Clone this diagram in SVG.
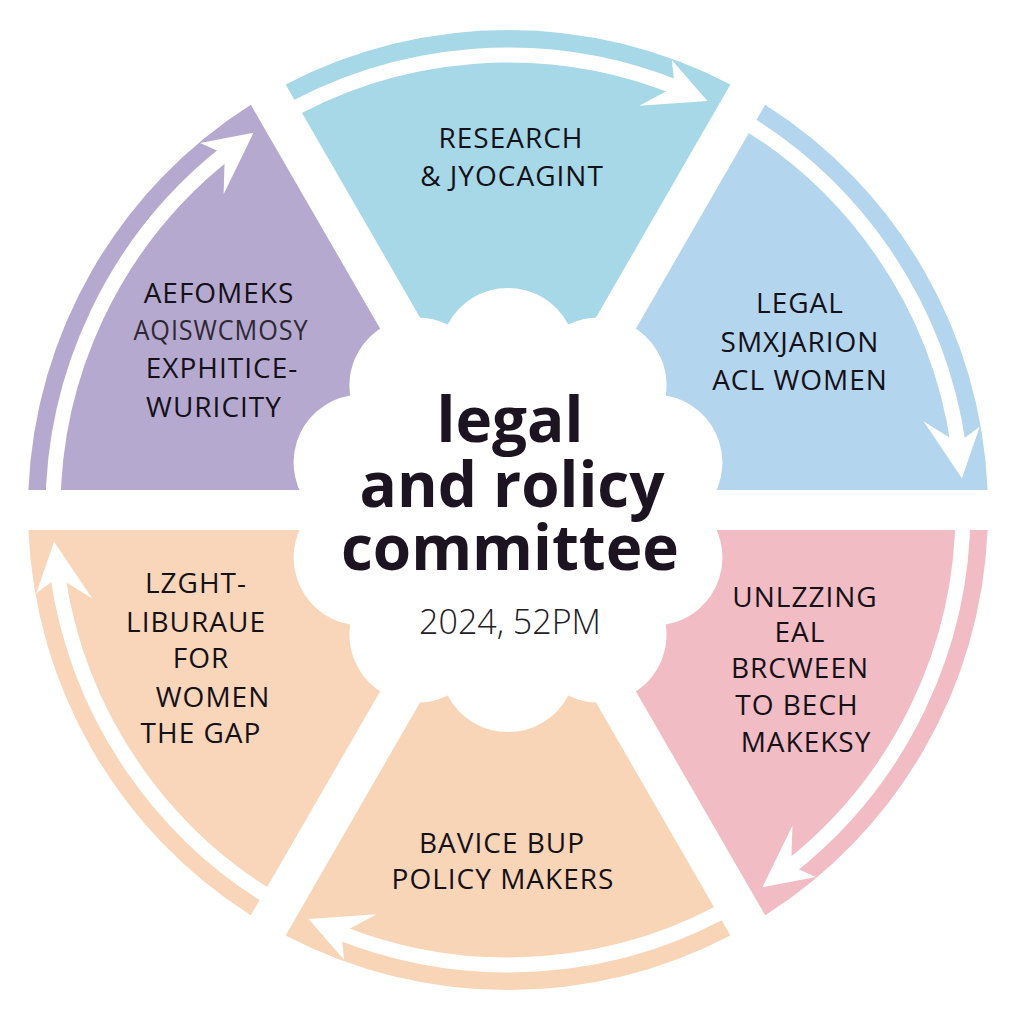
<svg xmlns="http://www.w3.org/2000/svg" xmlns:xlink="http://www.w3.org/1999/xlink" width="1024" height="1024" viewBox="0 0 1024 1024">
  <style>
    .seg { font-family: "Open Sans", "Noto Sans", "Liberation Sans", sans-serif; font-size: 28px; font-weight: 500; fill: #141118; text-anchor: middle; letter-spacing: 1px; }
    .title { font-family: "Open Sans", "Noto Sans", "Liberation Sans", sans-serif; font-size: 62px; font-weight: 700; fill: #1c1420; text-anchor: middle; }
    .sub { font-family: "Open Sans", "Noto Sans", "Liberation Sans", sans-serif; font-size: 34px; font-weight: 300; fill: #222026; text-anchor: middle; }
    .arrow-shaft { fill: none; stroke: #ffffff; stroke-width: 15; }
    .arrow-head { fill: #ffffff; }
  </style>
  <defs>
    <path id="wedge" d="M 508 470 L 285.6 84.6 A 480 480 0 0 1 730.4 84.6 Z"/>
    <g id="arrowTop">
      <path class="arrow-shaft" d="M 273.7 120.0 A 455 455 0 0 1 678.4 88.1"/>
      <polygon class="arrow-head" points="707.5,101.0 671.8,59.9 674.8,86.7 639.3,105.8"/>
    </g>
  </defs>
  <rect width="1024" height="1024" fill="#ffffff"/>

  <g id="node-research">
    <use xlink:href="#wedge" href="#wedge" fill="#a7d8e8"/>
  </g>
  <g id="node-legal-smxjarion">
    <use xlink:href="#wedge" href="#wedge" fill="#b3d6ee" transform="rotate(60 508 510)"/>
  </g>
  <g id="node-unlzzing">
    <use xlink:href="#wedge" href="#wedge" fill="#f2bcc4" transform="rotate(120 508 510)"/>
  </g>
  <g id="node-bavice">
    <use xlink:href="#wedge" href="#wedge" fill="#f9d5b7" transform="rotate(180 508 510)"/>
  </g>
  <g id="node-lzght">
    <use xlink:href="#wedge" href="#wedge" fill="#f9d6b9" transform="rotate(240 508 510)"/>
  </g>
  <g id="node-aefomeks">
    <use xlink:href="#wedge" href="#wedge" fill="#b6a9d0" transform="rotate(300 508 510)"/>
  </g>

  <g id="connectors">
    <use xlink:href="#arrowTop" href="#arrowTop"/>
    <use xlink:href="#arrowTop" href="#arrowTop" transform="rotate(60 508 510)"/>
    <use xlink:href="#arrowTop" href="#arrowTop" transform="rotate(120 508 510)"/>
    <use xlink:href="#arrowTop" href="#arrowTop" transform="rotate(180 508 510)"/>
    <use xlink:href="#arrowTop" href="#arrowTop" transform="rotate(240 508 510)"/>
    <use xlink:href="#arrowTop" href="#arrowTop" transform="rotate(300 508 510)"/>
  </g>

  <g id="center-cloud">
    <path fill="#ffffff" d="M 447.7 324.5 A 68 68 0 0 1 568.3 324.5 A 68 68 0 0 1 665.8 395.4 A 68 68 0 0 1 703 510 A 68 68 0 0 1 665.8 624.6 A 68 68 0 0 1 568.3 695.5 A 68 68 0 0 1 447.7 695.5 A 68 68 0 0 1 350.2 624.6 A 68 68 0 0 1 313 510 A 68 68 0 0 1 350.2 395.4 A 68 68 0 0 1 447.7 324.5 Z"/>
    <text class="title" x="510" y="442">legal</text>
    <text class="title" x="512" y="507">and rolicy</text>
    <text class="title" x="510" y="570">committee</text>
    <text class="sub" x="510" y="634">2024, 52PM</text>
  </g>

  <g id="labels">
    <g id="label-research">
      <text class="seg" x="511" y="148">RESEARCH</text>
      <text class="seg" x="512" y="186">&amp; JYOCAGINT</text>
    </g>
    <g id="label-legal-smxjarion">
      <text class="seg" x="800" y="313">LEGAL</text>
      <text class="seg" x="800" y="352">SMXJARION</text>
      <text class="seg" x="800" y="390">ACL WOMEN</text>
    </g>
    <g id="label-unlzzing">
      <text class="seg" x="805" y="607">UNLZZING</text>
      <text class="seg" x="800" y="642">EAL</text>
      <text class="seg" x="800" y="678">BRCWEEN</text>
      <text class="seg" x="797" y="715">TO BECH</text>
      <text class="seg" x="806" y="752">MAKEKSY</text>
    </g>
    <g id="label-bavice">
      <text class="seg" x="502" y="853">BAVICE BUP</text>
      <text class="seg" x="503" y="889">POLICY MAKERS</text>
    </g>
    <g id="label-lzght">
      <text class="seg" x="196" y="593">LZGHT-</text>
      <text class="seg" x="196" y="632">LIBURAUE</text>
      <text class="seg" x="201" y="668">FOR</text>
      <text class="seg" x="213" y="707">WOMEN</text>
      <text class="seg" x="201" y="743">THE GAP</text>
    </g>
    <g id="label-aefomeks">
      <text class="seg" x="219" y="303" letter-spacing="2.5">AEFOMEKS</text>
      <text class="seg" x="221" y="340" style="fill:#2e2935" textLength="175" lengthAdjust="spacingAndGlyphs">AQISWCMOSY</text>
      <text class="seg" x="222" y="378">EXPHITICE-</text>
      <text class="seg" x="214" y="417">WURICITY</text>
    </g>
  </g>
</svg>
